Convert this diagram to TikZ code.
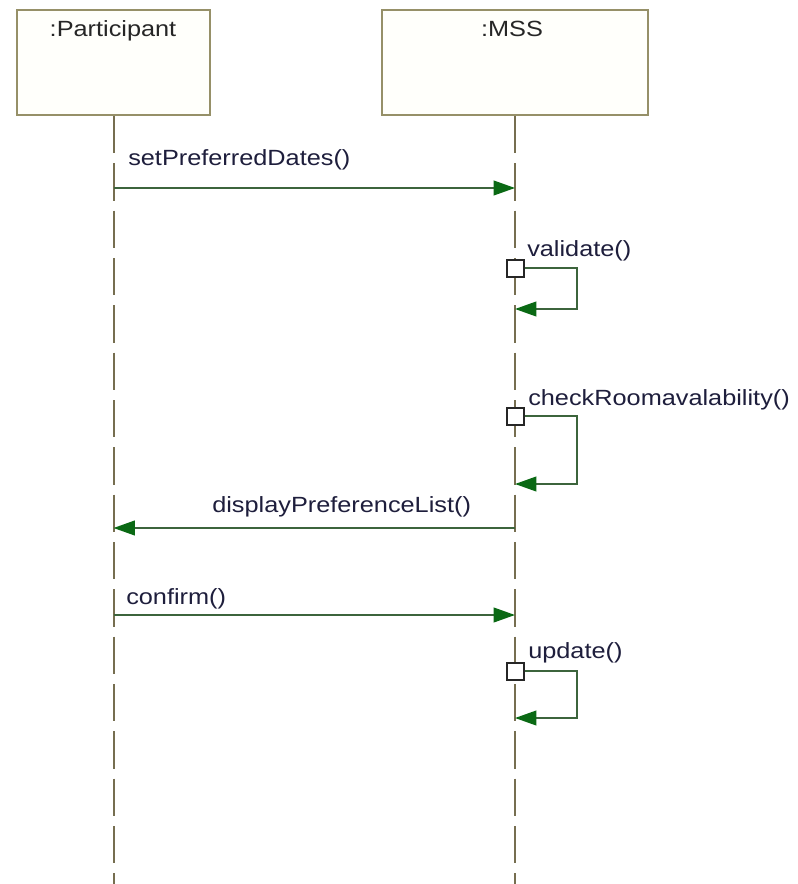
\documentclass[tikz,border=0pt]{standalone}
\usepackage{fontspec}
\setmainfont[FakeStretch=1.15]{Liberation Sans}
\usetikzlibrary{arrows.meta}
\definecolor{boxline}{RGB}{150,144,104}
\definecolor{lifecol}{RGB}{118,110,80}
\definecolor{boxfill}{RGB}{255,255,251}
\definecolor{msgcol}{RGB}{60,100,60}
\definecolor{tipcol}{RGB}{10,105,20}
\definecolor{txtcol}{RGB}{30,30,60}
\tikzset{
  objbox/.style={draw=boxline, fill=boxfill, line width=1.5pt, minimum width=145pt, minimum height=78.75pt, inner sep=0pt},
  lifeline/.style={draw=lifecol, line width=1.5pt, dash pattern=on 28pt off 7.5pt},
  msg/.style={draw=msgcol, line width=1.4pt, -{Triangle[length=16pt,width=11pt,fill=tipcol,color=tipcol]}},
  actsq/.style={draw=black!85, fill=white, line width=1.5pt, minimum size=12.75pt, inner sep=0pt},
  lbl/.style={text=txtcol, font=\fontsize{16.5pt}{18pt}\selectfont, inner sep=0pt, anchor=base west},
  hdr/.style={text=black!85, font=\fontsize{16.5pt}{18pt}\selectfont, inner sep=0pt, anchor=base}
}
\begin{document}
\begin{tikzpicture}[x=0.75pt,y=-0.75pt]
\path[fill=white,use as bounding box] (0,0) rectangle (797,884);
% object boxes
\node[objbox, minimum width=144.75pt] (P) at (113.5,62.5) {};
\node[objbox, minimum width=199.5pt] (M) at (515,62.5) {};
\node[hdr] (Pt) at (113,37) {:Participant};
\node[hdr] (Mt) at (512,37) {:MSS};
% lifeline ends
\coordinate (Pend) at (113.5,884);
\coordinate (Mend) at (515,884);
\draw[lifeline] (P.south) -- (Pend);
\draw[lifeline] (M.south) -- (Mend);
% message 1
\coordinate (p1) at (113.5,188);
\coordinate (m1) at (515,188);
\draw[msg] (p1) -- (m1);
\node[lbl] (l1) at (128,166) {setPreferredDates()};
% validate
\node[actsq] (s1) at (515,268) {};
\coordinate (r1) at (577,268);
\coordinate (b1) at (577,309);
\coordinate (e1) at (515,309);
\draw[msg] (s1.east) -- (r1) -- (b1) -- (e1);
\node[lbl] (l2) at (527,257) {validate()};
% checkRoomavalability
\node[actsq] (s2) at (515,416) {};
\coordinate (r2) at (577,416);
\coordinate (b2) at (577,484);
\coordinate (e2) at (515,484);
\draw[msg] (s2.east) -- (r2) -- (b2) -- (e2);
\node[lbl] (l3) at (528,405) {checkRoomavalability()};
% displayPreferenceList
\coordinate (m4) at (515,528);
\coordinate (p4) at (113.5,528);
\draw[msg] (m4) -- (p4);
\node[lbl] (l4) at (212,512) {displayPreferenceList()};
% confirm
\coordinate (p5) at (113.5,615);
\coordinate (m5) at (515,615);
\draw[msg] (p5) -- (m5);
\node[lbl] (l5) at (126,604) {confirm()};
% update
\node[actsq] (s3) at (515,671) {};
\coordinate (r3) at (577,671);
\coordinate (b3) at (577,718);
\coordinate (e3) at (515,718);
\draw[msg] (s3.east) -- (r3) -- (b3) -- (e3);
\node[lbl] (l6) at (528,658) {update()};
\end{tikzpicture}
\end{document}
